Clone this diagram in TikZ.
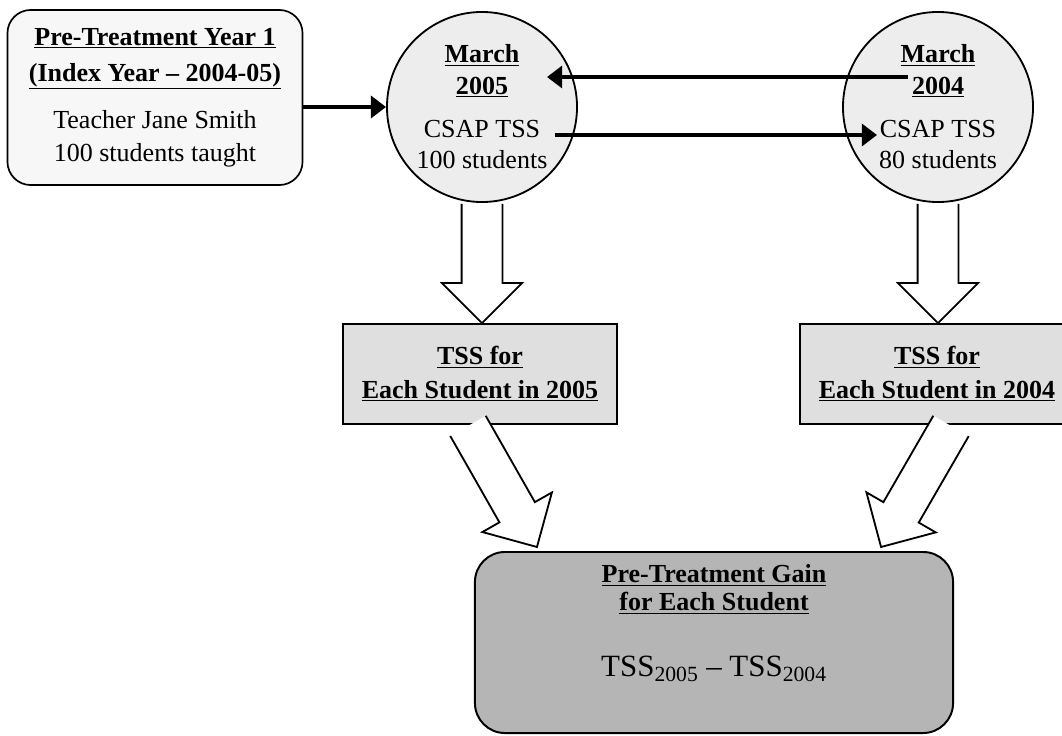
\documentclass[tikz,border=0pt]{standalone}
\usepackage{fontspec}
\setmainfont{Liberation Serif}
\usepackage{tikz}
\usetikzlibrary{positioning,arrows.meta,calc}
\newcommand{\fatarrow}[2]{%
  \coordinate (fa-s) at (#1);
  \coordinate (fa-t) at (#2);
  \coordinate (fa-h) at ($(fa-t)!1cm!(fa-s)$);
  \filldraw[fatarr] ($(fa-s)!0.51cm!90:(fa-t)$) -- ($(fa-h)!0.51cm!90:(fa-t)$)
    -- ($(fa-h)!1cm!90:(fa-t)$) -- (fa-t) -- ($(fa-h)!1cm!-90:(fa-t)$)
    -- ($(fa-h)!0.51cm!-90:(fa-t)$) -- ($(fa-s)!0.51cm!-90:(fa-t)$);}

\begin{document}
\begin{tikzpicture}[
    x=0.025cm, y=-0.025cm,
    font=\fontsize{18.5}{22.5}\selectfont,
    roundbox/.style={draw, line width=1.2pt, rounded corners=0.58cm, fill=gray!6,
                minimum width=7.375cm, minimum height=4.375cm, align=center, inner sep=0pt},
    circ/.style={draw, circle, line width=1.3pt, fill=gray!14,
                minimum size=4.75cm, inner sep=0pt, align=center},
    tssbox/.style={draw, line width=1.3pt, fill=gray!25, minimum width=6.85cm,
                minimum height=2.5cm, align=center, inner sep=0pt},
    gainbox/.style={draw, line width=1.4pt, rounded corners=0.75cm, fill=gray!58,
                minimum width=11.95cm, minimum height=4.525cm, align=center, inner sep=0pt},
    arr/.style={-{Triangle[length=0.38cm, width=0.55cm]}, line width=2.6pt},
    fatarr/.style={fill=white, line width=1.3pt, line join=miter}
]
  \useasboundingbox (0,0) rectangle (1062,735);
  \clip (0,0) rectangle (1062,735);

  \node[roundbox] (pre) at (155,97.5) {\underline{\textbf{Pre-Treatment Year 1}}\\[3pt]
    \underline{\textbf{(Index Year -- 2004-05)}}\\[11pt]Teacher Jane Smith\\[1pt]100 students taught};
  \node[circ] (c1) at (482,107) {\underline{\textbf{March}}\\\underline{\textbf{2005}}\\[8pt]
    CSAP TSS\\100 students};
  \node[circ] (c2) at (938,107) {\underline{\textbf{March}}\\\underline{\textbf{2004}}\\[8pt]
    CSAP TSS\\80 students};
  \node[tssbox] (t1) at (480,374) {\underline{\textbf{TSS for}}\\[1.5pt]
    \underline{\textbf{Each Student in 2005}}};
  \node[tssbox] (t2) at (937,374) {\underline{\textbf{TSS for}}\\[1.5pt]
    \underline{\textbf{Each Student in 2004}}};
  \node[gainbox, font=\fontsize{18.5}{20}\selectfont, text depth=31pt] (gain) at (714,642.5)
    {\underline{\textbf{Pre-Treatment Gain}}\\\underline{\textbf{for Each Student}}\\[27pt]
    {\fontsize{22}{26}\selectfont TSS\textsubscript{2005} -- TSS\textsubscript{2004}}};

  \coordinate (u1) at ($(c1.center)+(65,-30)$);
  \coordinate (u2) at ($(c2.center)+(-30,-30)$);
  \coordinate (l1) at ($(c1.center)+(73,28)$);
  \coordinate (l2) at ($(c2.center)+(-61,28)$);

  \draw[arr] (pre.east |- c1.west) -- (c1.west);
  \draw[arr] (u2) -- (u1);
  \draw[arr] (l1) -- (l2);

  \fatarrow{$(c1.south)+(0,1)$}{c1.south |- t1.north}
  \fatarrow{$(c2.south)+(0,1)$}{c2.south |- t2.north}
  \fatarrow{$(t1.south)+(-12,1)$}{$(gain.north west)+(63,-4)$}
  \fatarrow{$(t2.south)+(14,1)$}{$(gain.north east)+(-73,-4)$}
\end{tikzpicture}
\end{document}
